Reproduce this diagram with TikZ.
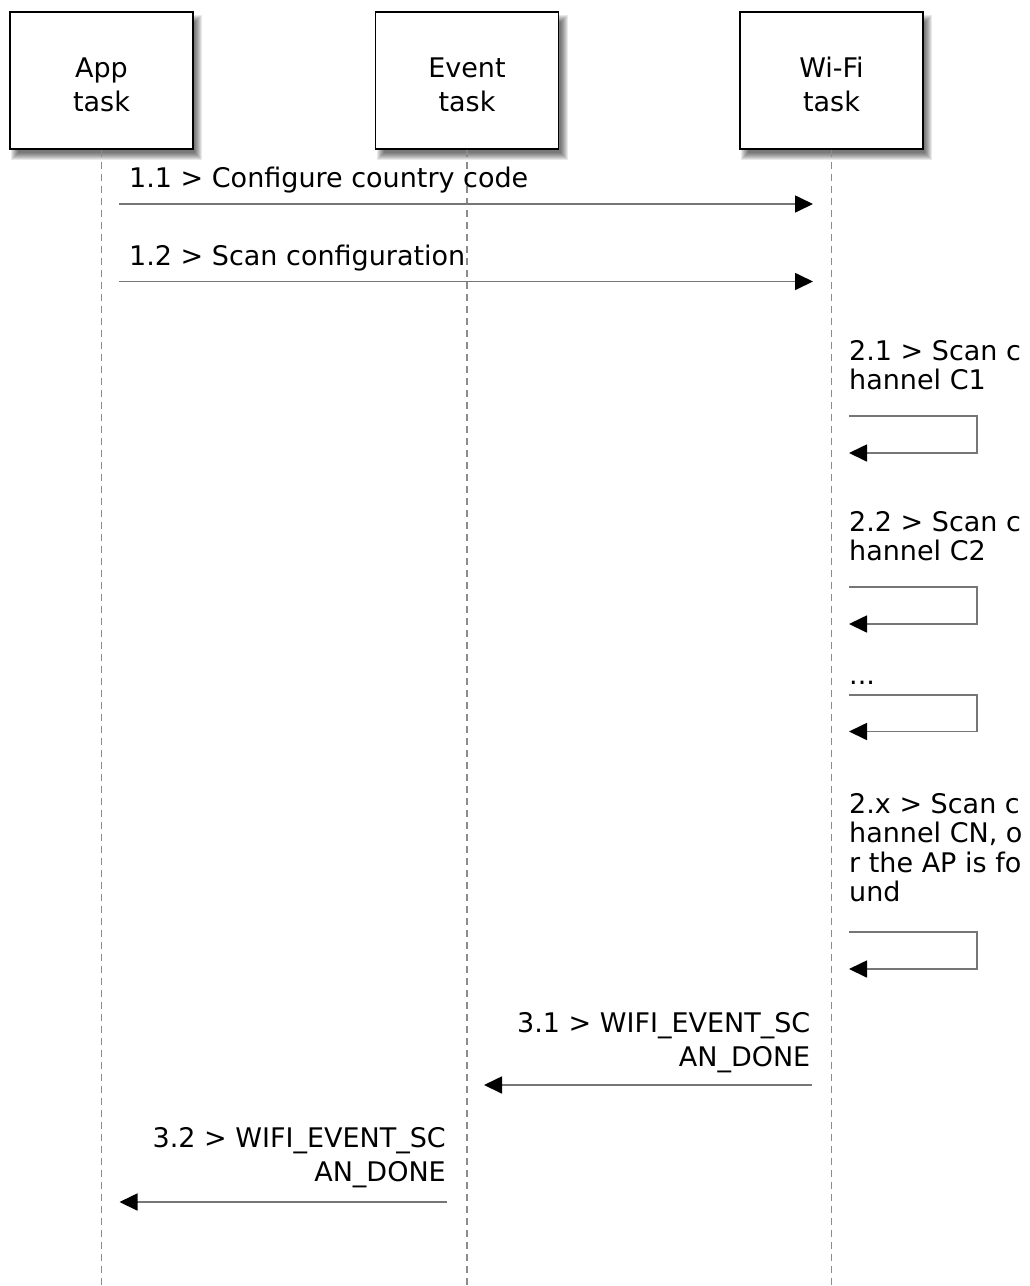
\documentclass[tikz,border=0pt]{standalone}
\usepackage{fontspec}
\setmainfont{DejaVu Sans}
\usetikzlibrary{arrows.meta}
\definecolor{lineg}{RGB}{118,118,118}
\definecolor{lifeg}{RGB}{140,140,140}
\begin{document}
\begin{tikzpicture}[x=1pt,y=-1pt,
  actor/.style={draw=black, line width=1.8pt, fill=white, minimum width=183pt, minimum height=137pt, inner sep=0pt, align=center, font=\fontsize{27}{34}\selectfont},
  lifeline/.style={draw=lifeg, line width=1.4pt, dash pattern=on 7pt off 5pt},
  msg/.style={draw=lineg, line width=1.7pt, -{Triangle[length=18pt,width=17pt,color=black]}},
  lbl/.style={inner sep=0pt, font=\fontsize{27}{29.5}\selectfont, text=black},
  lblb/.style={inner sep=0pt, font=\fontsize{27}{34.5}\selectfont, text=black},
]
\useasboundingbox (0,0) rectangle (1030,1286);
\fill[white] (0,0) rectangle (1030,1286);

% shadows (soft, layered)
\foreach \cx in {101.5,467,831.5}{
  \foreach \e in {4,3,2,1,0,-1,-2,-3}{
    \fill[black,opacity=0.085] (\cx-91.5+5-\e,12+7-\e) rectangle (\cx+91.5+5+\e,149+7+\e);
  }
}

% actors
\node[actor] (app) at (101.5,80.5) {App\rule{0pt}{28pt}\\task};
\node[actor] (evt) at (467,80.5) {Event\rule{0pt}{28pt}\\task};
\node[actor] (wifi) at (831.5,80.5) {Wi-Fi\rule{0pt}{28pt}\\task};

% lifelines
\coordinate (append) at (101.5,1286);
\coordinate (evtend) at (467,1286);
\coordinate (wifiend) at (831.5,1286);
\draw[lifeline] (app.south) -- (append);
\draw[lifeline] (evt.south) -- (evtend);
\draw[lifeline] (wifi.south) -- (wifiend);

% 1.1
\coordinate (m11s) at (119,204);
\coordinate (m11e) at (813,204);
\draw[msg] (m11s) -- (m11e);
\node[lbl, anchor=north west] (l11) at (129,167) {1.1 > Configure country code};

% 1.2
\coordinate (m12s) at (119,281.5);
\coordinate (m12e) at (813,281.5);
\draw[msg] (m12s) -- (m12e);
\node[lbl, anchor=north west] (l12) at (129,245) {1.2 > Scan configuration};

% 2.1
\node[lbl, anchor=north west, align=left] (l21) at (849,340) {2.1 > Scan c\\hannel C1};
\coordinate (s21a) at (849,416);
\coordinate (s21b) at (849,453);
\draw[msg] (s21a) -- ++(128,0) -- ++(0,37) -- (s21b);

% 2.2
\node[lbl, anchor=north west, align=left] (l22) at (849,511) {2.2 > Scan c\\hannel C2};
\coordinate (s22a) at (849,587);
\coordinate (s22b) at (849,624);
\draw[msg] (s22a) -- ++(128,0) -- ++(0,37) -- (s22b);

% ...
\node[lbl, anchor=base west] (ldots) at (849,684) {...};
\coordinate (s2da) at (849,695);
\coordinate (s2db) at (849,731.5);
\draw[msg] (s2da) -- ++(128,0) -- ++(0,36.5) -- (s2db);

% 2.x
\node[lbl, anchor=north west, align=left] (l2x) at (849,793) {2.x > Scan c\\hannel CN, o\\r the AP is fo\\und};
\coordinate (s2xa) at (849,932);
\coordinate (s2xb) at (849,969);
\draw[msg] (s2xa) -- ++(128,0) -- ++(0,37) -- (s2xb);

% 3.1
\node[lblb, anchor=north east, align=right] (l31) at (810.5,1012) {3.1 > WIFI\_EVENT\_SC\\AN\_DONE};
\coordinate (m31s) at (812,1085);
\coordinate (m31e) at (484,1085);
\draw[msg] (m31s) -- (m31e);

% 3.2
\node[lblb, anchor=north east, align=right] (l32) at (446,1127) {3.2 > WIFI\_EVENT\_SC\\AN\_DONE};
\coordinate (m32s) at (447,1202);
\coordinate (m32e) at (119.5,1202);
\draw[msg] (m32s) -- (m32e);
\end{tikzpicture}
\end{document}
